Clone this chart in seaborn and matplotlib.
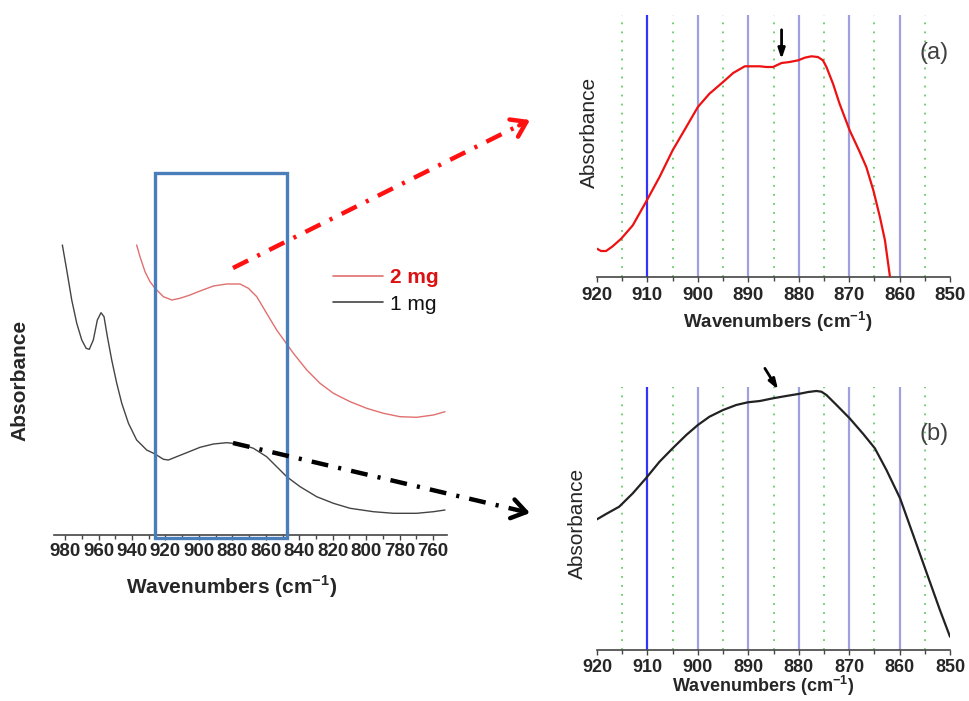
import numpy as np
import pandas as pd
import matplotlib
matplotlib.use("Agg")
import matplotlib.pyplot as plt
from matplotlib.lines import Line2D
from matplotlib.patches import Rectangle, FancyArrowPatch
from matplotlib.ticker import MultipleLocator
import seaborn as sns

# ---------------- data ----------------
# Left overview: wavenumber (cm-1) and absorbance (arbitrary units)
wn_1mg = [981.6, 979.0, 976.0, 973.0, 970.0, 967.4, 965.5, 963.1, 960.7, 958.5,
          956.7, 954.7, 952.1, 949.1, 946.1, 942.1, 937.2, 931.2, 926.2, 921.2,
          918.2, 913.3, 907.3, 899.3, 891.3, 883.4, 875.4, 867.4, 859.5, 853.5,
          847.5, 839.5, 829.6, 819.6, 809.6, 795.7, 783.7, 769.8, 759.8, 752.9]
abs_1mg = [290, 265, 235, 211.7, 195, 186.7, 185.7, 195, 215, 222.3,
           218.3, 198.3, 175, 151.7, 131.7, 111.7, 95, 85, 81, 75.7,
           75, 78.3, 82.3, 87.7, 91, 92.3, 91, 86.7, 78.3, 68.3,
           58.3, 48.3, 38.3, 31.7, 26.7, 23.3, 21.7, 21.7, 23.3, 25]

wn_2mg = [937.2, 935.2, 932.2, 929.2, 926.2, 921.2, 916.2, 911.3, 905.3, 899.3,
          891.3, 883.4, 875.4, 870.4, 865.4, 859.5, 853.5, 848.5, 843.5, 835.5,
          827.6, 819.6, 809.6, 799.7, 789.7, 779.8, 769.8, 759.8, 752.9]
abs_2mg = [290, 278.3, 263.3, 253.3, 246.7, 238.3, 235, 236.7, 240, 244,
           249, 251, 251, 246.7, 238.3, 221.7, 205, 193.3, 181.7, 165,
           151.7, 141.7, 133.3, 126.7, 121.7, 118.3, 117.7, 120, 123.3]

# Zoom (a): 2 mg
wn_a = [920.0, 919.2, 918.2, 916.9, 915.2, 912.9, 910.3, 907.6, 905.0, 902.3,
        900.0, 897.7, 895.0, 893.0, 890.7, 889.1, 887.7, 886.4, 885.1, 883.4,
        881.8, 880.1, 878.8, 877.5, 876.2, 875.2, 874.5, 873.2, 871.9, 869.9,
        867.9, 866.6, 865.2, 863.9, 862.9, 861.9, 861.6]
abs_a = [28.3, 26, 26, 30.7, 38.3, 51.7, 75, 100, 126.7, 150,
         170, 183.3, 195, 204, 210.7, 210.7, 210.7, 210, 210, 214,
         215, 216.7, 219.3, 220.7, 220, 216.7, 210, 193.3, 173.3, 146.7,
         125, 110, 86.7, 60, 36.7, 0, -8]

# Zoom (b): 1 mg
wn_b = [920.0, 918.2, 915.6, 912.9, 910.3, 907.6, 905.0, 902.3, 900.0, 897.7,
        895.0, 892.4, 890.1, 887.7, 885.1, 882.5, 880.1, 878.1, 876.5, 875.5,
        874.5, 872.5, 869.9, 867.2, 864.9, 862.6, 859.9, 857.3, 854.6, 852.0,
        850.0]
abs_b = [130.7, 136, 143.3, 156.7, 171.7, 188.3, 201.7, 215, 225, 233.3,
         240, 245, 247.7, 249, 251.7, 254, 256, 258, 259, 258.3,
         255, 245, 231.7, 216, 201.7, 180, 151.7, 115, 76.7, 40,
         13.3]

series_labels = ["2 mg", "1 mg"]
major_lines = [910, 900, 890, 880, 870, 860]
minor_lines = [915, 905, 895, 885, 875, 865, 855]
box_range = [926.2, 847.3]  # zoomed window on the overview

# ---------------- style ----------------
sns.set_style("white")
plt.rcParams["font.family"] = ["Liberation Sans", "DejaVu Sans"]
plt.rcParams["axes.unicode_minus"] = False

W, H = 970, 701
fig = plt.figure(figsize=(W / 100, H / 100), dpi=100)


def fx(px):
    return px / W


def fy(py):
    return 1 - py / H


def style_axis(ax, major, minor, size, pad):
    for s in ["left", "right", "top"]:
        ax.spines[s].set_visible(False)
    ax.spines["bottom"].set_color("#444444")
    ax.spines["bottom"].set_linewidth(1.2)
    ax.set_yticks([])
    ax.xaxis.set_major_locator(MultipleLocator(major))
    ax.xaxis.set_minor_locator(MultipleLocator(minor))
    ax.tick_params(axis="x", which="both", direction="out", bottom=True,
                   color="#444444", width=1.0)
    ax.tick_params(axis="x", which="major", length=3.5, pad=pad, labelsize=size)
    ax.tick_params(axis="x", which="minor", length=3)
    for lab in ax.get_xticklabels():
        lab.set_fontweight("bold")
    ax.set_facecolor("none")


# ---------------- left overview ----------------
axL = fig.add_axes([fx(54), fy(535), fx(447) - fx(54), fy(160) - fy(535)])
df1 = pd.DataFrame({"wn": wn_1mg, "A": abs_1mg})
df2 = pd.DataFrame({"wn": wn_2mg, "A": abs_2mg})
sns.lineplot(data=df2, x="wn", y="A", ax=axL, color="#e07070", lw=1.0,
             sort=False, estimator=None, label=series_labels[0])
sns.lineplot(data=df1, x="wn", y="A", ax=axL, color="#444444", lw=1.0,
             sort=False, estimator=None, label=series_labels[1])
axL.set_xlim(986.6, 751.7)
axL.set_ylim(0, 375)
style_axis(axL, 20, 10, 13.5, 2.5)
axL.set_ylabel("Absorbance", fontsize=15, fontweight="bold")
axL.yaxis.set_label_coords(-0.0865, 0.413)
axL.set_xlabel("Wavenumbers (cm$^{\\mathregular{-1}}$)", fontsize=15, fontweight="bold")
axL.xaxis.set_label_coords(0.453, -0.139)
axL.xaxis.label.set_va("center")
axL.yaxis.label.set_va("center")

leg = axL.legend(loc="upper left", bbox_to_anchor=(fx(333), fy(268)),
                 bbox_transform=fig.transFigure, frameon=False, fontsize=15,
                 handlelength=2.4, handletextpad=0.33, labelspacing=0.36,
                 borderpad=0, borderaxespad=0)
txts = leg.get_texts()
txts[0].set_color("#dd1111")
txts[0].set_fontweight("bold")
txts[1].set_color("#111111")
for h in leg.get_lines():
    h.set_linewidth(1.2)

rect = Rectangle((box_range[0], -3), box_range[1] - box_range[0], 365,
                 fill=False, ec="#4a7ebb", lw=2.4, clip_on=False, zorder=5)
axL.add_patch(rect)


def zoom_panel(ax, wn, ab, color, ymax):
    for v in major_lines:
        ax.axvline(v, color="#3333ff" if v == 910 else "#a0a0e0", lw=1.6, zorder=1)
    for v in minor_lines:
        ax.axvline(v, color="#66cc66", lw=1.3, ls=(0, (1, 4)), zorder=1)
    sns.lineplot(x=wn, y=ab, ax=ax, color=color, lw=1.6, sort=False,
                 estimator=None, zorder=3)
    ax.set_xlim(920, 850)
    ax.set_ylim(0, ymax)
    style_axis(ax, 10, 5, 13.5, 4)
    ax.set_ylabel("Absorbance", fontsize=15)
    ax.yaxis.label.set_va("center")
    ax.set_xlabel("Wavenumbers (cm$^{\\mathregular{-1}}$)", fontsize=13.5,
                  fontweight="bold")
    ax.xaxis.label.set_va("center")


# ---------------- right (a) ----------------
axA = fig.add_axes([fx(597), fy(277), fx(950) - fx(597), fy(15) - fy(277)])
zoom_panel(axA, wn_a, abs_a, "#ee1111", 262)
axA.yaxis.set_label_coords(-0.02, 0.55)
axA.xaxis.set_label_coords(0.513, -0.172)
axA.text(0.955, 0.855, "(a)", transform=axA.transAxes, fontsize=17,
         color="#404040", ha="center", va="center")
axA.annotate("", xy=(883.4, 215), xytext=(883.4, 250),
             arrowprops=dict(arrowstyle="-|>,head_length=0.6,head_width=0.2",
                             color="black", lw=2), annotation_clip=False)

# ---------------- right (b) ----------------
axB = fig.add_axes([fx(597), fy(650), fx(950) - fx(597), fy(387) - fy(650)])
zoom_panel(axB, wn_b, abs_b, "#222222", 263)
axB.tick_params(axis="x", which="major", pad=3, labelsize=13)
axB.xaxis.label.set_fontsize(13)
axB.yaxis.set_label_coords(-0.054, 0.483)
axB.xaxis.set_label_coords(0.47, -0.138)
axB.text(0.955, 0.82, "(b)", transform=axB.transAxes, fontsize=17,
         color="#404040", ha="center", va="center")
axB.annotate("", xy=(883.8, 258), xytext=(887.0, 284),
             arrowprops=dict(arrowstyle="-|>,head_length=0.6,head_width=0.2",
                             color="black", lw=2), annotation_clip=False)


# ---------------- dash-dot pointer arrows (figure coords) ----------------
def pointer(start, tip, color):
    sx, sy = start
    tx, ty = tip
    d = np.hypot(tx - sx, ty - sy)
    ux, uy = (tx - sx) / d, (ty - sy) / d
    back = 12
    bx, by = tx - ux * back, ty - uy * back
    ln = Line2D([fx(sx), fx(bx)], [fy(sy), fy(by)], transform=fig.transFigure,
                color=color, lw=3.2, dash_capstyle="butt")
    ln.set_dashes([3.8, 2.3, 0.7, 2.3])
    fig.add_artist(ln)
    fig.add_artist(FancyArrowPatch(
        (fx(bx), fy(by)), (fx(tx), fy(ty)), transform=fig.transFigure,
        arrowstyle="->,head_length=3.4,head_width=2.3", color=color, lw=3.2,
        mutation_scale=3, shrinkA=0, shrinkB=0))


pointer((233, 268), (530, 120), "#ff1111")
pointer((233, 443), (530, 513), "#000000")

fig.savefig("out.png", dpi=100)
